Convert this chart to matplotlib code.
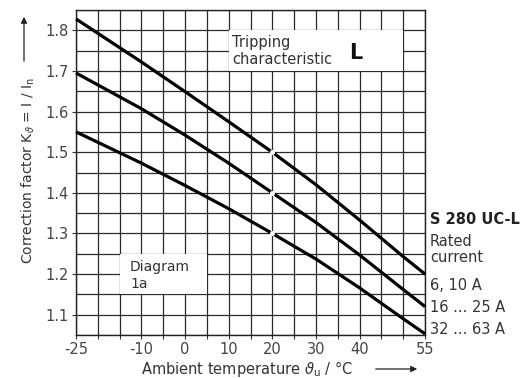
import numpy as np
import matplotlib
matplotlib.use("Agg")
import matplotlib.pyplot as plt
from matplotlib.patches import FancyArrowPatch

plt.rcParams['font.family'] = ['DejaVu Sans']
plt.rcParams['mathtext.fontset'] = 'dejavusans'

# ---- data ----
temps = [-25, -10, 0, 10, 20, 30, 40, 50, 55]
k_6_10 = [1.828, 1.722, 1.649, 1.575, 1.5, 1.42, 1.333, 1.243, 1.2]
k_16_25 = [1.695, 1.607, 1.542, 1.473, 1.4, 1.327, 1.247, 1.162, 1.12]
k_32_63 = [1.55, 1.473, 1.418, 1.361, 1.3, 1.237, 1.166, 1.09, 1.053]
ref_temp = 20
ref_vals = [1.5, 1.4, 1.3]
series_labels = ['6, 10 A', '16 ... 25 A', '32 ... 63 A']
xtick_labels = [-25, -10, 0, 10, 20, 30, 40, 55]
ytick_labels = [1.1, 1.2, 1.3, 1.4, 1.5, 1.6, 1.7, 1.8]

W, H = 526, 378
fig = plt.figure(figsize=(W / 100, H / 100), dpi=100)
ax = fig.add_axes([76 / W, 1 - 335 / H, 349 / W, 325 / H])

ax.set_xlim(-25, 55)
ax.set_ylim(1.05, 1.85)

# grid every 5 degC and 0.05
ax.set_xticks(np.arange(-25, 56, 5), minor=True)
ax.set_yticks(np.arange(1.05, 1.851, 0.05), minor=True)
ax.set_xticks(xtick_labels)
ax.set_xticklabels([str(v) for v in xtick_labels])
ax.set_yticks(ytick_labels)
ax.set_yticklabels([f"{v:.1f}" for v in ytick_labels])
ax.grid(which='both', color='#2a2a2a', linewidth=0.9)
ax.tick_params(which='both', direction='out', length=3, width=0.8, color='#333333',
               labelsize=10.5, labelcolor='#444444', pad=2)
ax.tick_params(axis='y', which='minor', length=0)
for s in ax.spines.values():
    s.set_color('#222222')
    s.set_linewidth(1.0)

for ser in (k_6_10, k_16_25, k_32_63):
    ax.plot(temps, ser, color='black', linewidth=2.3, solid_capstyle='butt',
            solid_joinstyle='round', zorder=3, clip_on=False)
ax.plot([ref_temp] * 3, ref_vals, linestyle='none', marker='o', markersize=2.6,
        markerfacecolor='white', markeredgecolor='white', zorder=4)

# boxes inside plot
ax.fill_between([10, 50], 1.7, 1.8, color='white', zorder=2, linewidth=0)
ax.fill_between([-15, 5], 1.15, 1.25, color='white', zorder=2, linewidth=0)

def fx(px):
    return px / W

def fy(py):
    return 1 - py / H

tc = '#333333'
fig.text(fx(232), fy(43), 'Tripping', fontsize=10.5, color=tc, va='center', ha='left')
fig.text(fx(232), fy(59), 'characteristic', fontsize=10.5, color=tc, va='center', ha='left')
fig.text(fx(349), fy(53), 'L', fontsize=15, fontweight='bold', color='#111111',
         va='center', ha='left')
fig.text(fx(130), fy(267), 'Diagram', fontsize=10, color=tc, va='center', ha='left')
fig.text(fx(130), fy(284), '1a', fontsize=10, color=tc, va='center', ha='left')

# right side labels
fig.text(fx(430), fy(219), 'S 280 UC-L', fontsize=10.5, fontweight='bold',
         color='#222222', va='center', ha='left')
fig.text(fx(430), fy(241), 'Rated', fontsize=10.5, color=tc, va='center', ha='left')
fig.text(fx(430), fy(257), 'current', fontsize=10.5, color=tc, va='center', ha='left')
for lab, py in zip(series_labels, [286, 308, 330]):
    fig.text(fx(430), fy(py), lab, fontsize=10.5, color=tc, va='center', ha='left')

# axis labels with arrows
fig.text(fx(141), fy(369), r'Ambient temperature $\vartheta_{\mathrm{u}}$ / °C',
         fontsize=10.5, color=tc, va='center', ha='left')
fig.add_artist(FancyArrowPatch(
    (fx(373), fy(369)), (fx(420), fy(369)), transform=fig.transFigure,
    arrowstyle='-|>', mutation_scale=9, color='#222222', linewidth=0.9))
fig.text(fx(28), fy(170), r'Correction factor K$_{\vartheta}$ = I / I$_{\mathrm{n}}$',
         fontsize=10, color=tc, va='center', ha='center', rotation=90)
fig.add_artist(FancyArrowPatch(
    (fx(24), fy(64)), (fx(24), fy(14)), transform=fig.transFigure,
    arrowstyle='-|>', mutation_scale=9, color='#222222', linewidth=0.9))

fig.savefig('out.png', dpi=100, facecolor='white')
